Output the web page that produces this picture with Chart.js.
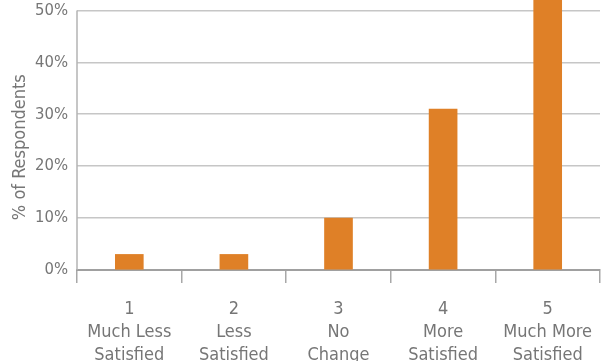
<!DOCTYPE html>
<html>
<head>
<meta charset="utf-8">
<script src="https://cdn.jsdelivr.net/npm/chart.js@4/dist/chart.umd.min.js"></script>
<style>
  html, body { margin: 0; padding: 0; background: #ffffff; }
  #wrap { width: 606px; height: 361px; position: relative; }
</style>
</head>
<body>
<div id="wrap"><canvas id="chart" width="606" height="361"></canvas></div>
<script>
// Survey responses: change in satisfaction
const scoreLabels = ['1', '2', '3', '4', '5'];
const scoreDescriptions = [
  ['Much Less', 'Satisfied'],
  ['Less', 'Satisfied'],
  ['No', 'Change'],
  ['More', 'Satisfied'],
  ['Much More', 'Satisfied']
];
const percentRespondents = [3, 3, 10, 31, 53];
const yTickValues = [0, 10, 20, 30, 40, 50];
const yAxisTitle = '% of Respondents';

const categories = scoreLabels.map((s, i) => [s, ...scoreDescriptions[i]]);

const FONT = '"DejaVu Sans Condensed", "DejaVu Sans", sans-serif';
const TEXT = '#767676';
const BAR = '#df8027';

// Vertical axis line from the top tick down, plus the rotated axis title
const axisDecor = {
  id: 'axisDecor',
  afterDraw(chart) {
    const { ctx, chartArea, scales } = chart;
    const y = scales.y;
    const topTick = yTickValues[yTickValues.length - 1];
    ctx.save();
    ctx.strokeStyle = '#b3b3b3';
    ctx.lineWidth = 1.5;
    ctx.beginPath();
    ctx.moveTo(chartArea.left, y.getPixelForValue(topTick));
    ctx.lineTo(chartArea.left, chartArea.bottom);
    ctx.stroke();

    const midY = (y.getPixelForValue(0) + y.getPixelForValue(topTick)) / 2 + 7;
    ctx.translate(20, midY);
    ctx.rotate(-Math.PI / 2);
    ctx.fillStyle = TEXT;
    ctx.font = '18px ' + FONT;
    ctx.textAlign = 'center';
    ctx.textBaseline = 'middle';
    ctx.fillText(yAxisTitle, 0, 0);
    ctx.restore();
  }
};

new Chart(document.getElementById('chart'), {
  type: 'bar',
  data: {
    labels: categories,
    datasets: [{
      data: percentRespondents,
      backgroundColor: BAR,
      borderWidth: 0,
      barThickness: 28
    }]
  },
  options: {
    responsive: false,
    animation: false,
    devicePixelRatio: 1,
    layout: { padding: { left: 0, right: 6, top: 0, bottom: 0 } },
    plugins: {
      legend: { display: false },
      tooltip: { enabled: false }
    },
    scales: {
      x: {
        grid: {
          offset: true,
          drawOnChartArea: false,
          drawTicks: true,
          tickLength: 13,
          color: '#a8a8a8',
          lineWidth: 1.5
        },
        border: { display: true, color: '#a0a0a0', width: 2 },
        ticks: {
          color: TEXT,
          font: { family: FONT, size: 18, lineHeight: '23px' },
          padding: 15,
          maxRotation: 0,
          autoSkip: false
        },
        afterFit(scale) {
          scale.height = 91;
          scale.paddingLeft = 0;
          scale.paddingRight = 0;
        }
      },
      y: {
        min: 0,
        max: 52,
        afterBuildTicks(scale) {
          scale.ticks = yTickValues.map(v => ({ value: v }));
        },
        grid: {
          drawTicks: false,
          color: '#c6c6c6',
          lineWidth: 1.5
        },
        border: { display: false },
        ticks: {
          color: TEXT,
          font: { family: FONT, size: 16.5 },
          padding: 9,
          callback: v => v + '%'
        },
        afterFit(scale) {
          scale.width = 77;
          scale.paddingTop = 0;
          scale.paddingBottom = 0;
        }
      }
    }
  },
  plugins: [axisDecor]
});
</script>
</body>
</html>
